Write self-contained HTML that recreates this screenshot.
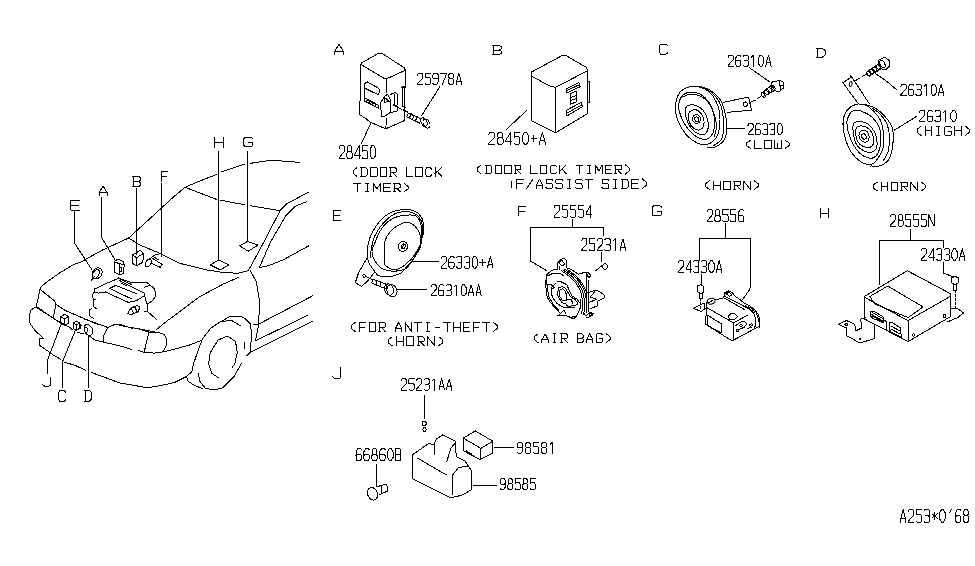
<!DOCTYPE html>
<html><head><meta charset="utf-8"><style>
html,body{margin:0;padding:0;background:#fff;width:975px;height:566px;overflow:hidden}
svg{display:block}
</style></head><body>
<svg width="975" height="566" viewBox="0 0 975 566">
<rect width="975" height="566" fill="#fff"/>
<g fill="none" stroke="#000" stroke-width="1" stroke-linejoin="round" stroke-linecap="square" shape-rendering="crispEdges">
<polyline points="74.50,211.00 74.50,243.00 91.90,269.60"/>
<polyline points="101.30,197.00 101.30,237.00 115.50,260.50"/>
<polyline points="136.30,188.00 136.30,254.00"/>
<polyline points="161.50,183.00 161.50,256.00"/>
<polyline points="218.60,151.00 218.60,260.00"/>
<polyline points="247.50,151.00 247.50,241.50"/>
<polyline points="47.50,373.50 47.50,360.00 61.50,323.50"/>
<polyline points="62.30,387.60 62.30,362.30 75.50,330.00"/>
<polyline points="88.30,387.60 88.30,335.50"/>
<polyline points="185.00,187.30 196.60,182.30 216.50,174.50"/>
<polyline points="221.00,172.00 244.80,164.00"/>
<polyline points="250.50,163.30 271.30,160.20 299.60,162.40"/>
<polyline points="185.00,187.30 216.50,199.40"/>
<polyline points="221.00,200.30 244.80,204.80"/>
<polyline points="250.00,205.60 279.70,210.60"/>
<polyline points="185.00,187.30 175.00,195.60 128.75,238.00 102.50,250.00 86.70,258.70 81.30,262.00 73.30,264.70 60.00,272.70 46.70,282.00 41.30,286.70 40.00,289.30"/>
<polyline points="128.75,238.00 139.80,245.00 159.80,253.30 179.70,263.30 206.30,269.90 222.90,272.40 238.10,273.30 248.10,270.80 253.10,262.00 264.00,241.70 280.30,210.40 287.10,203.60 308.80,192.00"/>
<polyline points="306.80,201.60 295.20,206.30 285.70,215.90 270.70,241.70 259.40,267.50 268.00,265.80 283.00,260.00 308.80,245.80"/>
<polyline points="249.80,270.00 256.40,281.60 259.50,301.50 258.70,324.10 312.90,295.70"/>
<polyline points="156.50,329.50 168.30,320.00 180.00,311.50 200.00,296.50 223.20,284.10 239.00,277.10"/>
<polyline points="253.10,324.90 258.70,324.10 255.50,340.80 307.10,315.60"/>
<polyline points="246.00,355.90 250.00,352.70 312.00,321.50"/>
<polyline points="202.30,339.20 210.20,328.80 216.60,324.10 222.10,320.90 229.30,316.90 241.20,316.40 246.00,319.30 250.70,324.10 251.50,336.80 250.00,352.70 246.80,355.90"/>
<polyline points="202.30,339.20 199.00,348.00 193.50,363.80 191.90,371.80 186.40,376.50 188.00,381.30 194.30,385.30 202.30,388.50"/>
<polyline points="241.20,363.80 234.00,376.50 222.90,387.70 215.00,390.00 205.40,388.50 199.90,381.30 198.30,373.40"/>
<polyline points="223.00,321.70 230.90,320.10 240.40,325.70"/>
<polyline points="219.00,378.10 211.80,373.40 208.60,363.80 210.20,352.70 218.20,340.00 227.70,336.00 235.60,341.60 237.20,352.70 234.80,363.80 232.50,367.00"/>
<polyline points="244.40,342.40 244.40,348.70"/>
<polyline points="138.10,350.30 144.20,352.30 154.10,353.10 163.10,351.90 175.00,349.00 189.90,344.90 202.30,340.00"/>
<polyline points="139.30,329.40 150.00,332.20 157.30,332.20 163.90,334.30 166.40,338.80 166.40,345.40 163.10,351.90"/>
<polyline points="148.70,333.00 144.20,351.90"/>
<polyline points="40.00,289.30 54.30,300.70"/>
<polyline points="40.00,289.30 36.70,304.70 36.00,307.30 53.30,318.00 60.00,322.70"/>
<polyline points="56.00,303.30 53.30,318.00"/>
<polyline points="36.60,306.60 30.80,310.00 29.10,316.60 30.00,323.30 35.00,330.70 40.80,335.70 43.30,339.00 40.00,338.20 39.10,344.90 44.90,349.00 53.30,355.00 60.50,359.20"/>
<polyline points="91.20,372.50 98.00,374.90 110.00,379.30 119.70,383.00 144.60,387.20 150.00,387.30 161.20,385.50 174.90,382.30 186.40,376.50"/>
<polyline points="36.60,306.60 53.20,318.30 69.80,327.40 72.00,329.40"/>
<polyline points="78.00,332.40 84.00,334.00"/>
<polyline points="90.00,336.50 95.00,340.00 103.20,342.10 119.60,345.80 131.90,349.50"/>
<polyline points="54.30,300.70 56.60,304.70 65.20,310.40 95.00,323.20 108.10,327.30 113.90,324.40 119.60,324.40 132.70,328.50"/>
<polyline points="108.10,327.30 103.20,336.30 103.20,342.10"/>
<polyline points="64.50,362.30 74.70,365.20 85.90,370.50"/>
<polyline points="94.70,289.00 105.50,283.80 118.80,278.20 132.20,282.80 140.40,282.10 146.50,282.10 154.70,289.00 155.80,295.60 152.70,300.80 147.60,303.80"/>
<polyline points="94.70,289.00 94.20,292.00 98.30,293.10 105.50,292.00 128.10,302.30 136.30,300.80 144.50,295.60 144.00,293.10 129.00,285.50"/>
<polyline points="109.60,288.50 115.80,285.40 136.30,293.60"/>
<polyline points="109.60,288.50 131.20,298.70"/>
<polyline points="94.20,292.00 92.70,294.60 93.20,299.70 95.20,299.70"/>
<polyline points="93.20,299.70 93.70,306.90 96.30,308.50"/>
<polyline points="92.20,308.00 89.60,310.00 89.10,315.60 93.20,318.20"/>
<polyline points="144.50,295.60 147.00,303.80 147.00,311.00 144.50,311.50"/>
<polyline points="147.00,311.00 156.80,319.70"/>
<polyline points="144.00,287.40 149.60,285.40"/>
<polygon points="127.50,313.50 131.00,308.00 137.50,305.40 139.90,307.50 138.00,312.00 131.00,314.60"/>
<polyline points="131.00,308.00 134.00,313.50"/>
<polyline points="134.50,306.50 137.00,311.50"/>
<polyline points="118.50,278.00 124.00,281.00"/>
<polyline points="119.50,280.50 128.00,285.00"/>
<polyline points="121.00,283.00 126.00,285.50"/>
<polyline points="124.00,281.00 131.50,284.50"/>
<polyline points="85.00,319.20 107.60,327.40 115.80,324.40 130.10,327.40 139.80,328.90 159.80,333.00"/>
<polygon points="115.00,260.90 118.10,259.20 122.90,261.30 124.20,264.40 123.70,273.10 119.80,274.80 114.60,272.20 114.20,261.80"/>
<polyline points="114.50,261.80 119.40,263.80 124.20,264.40"/>
<polyline points="119.40,263.80 119.40,274.50"/>
<polyline points="120.60,267.00 122.00,267.00 121.00,269.00 122.00,271.00 120.60,271.00"/>
<polygon points="132.50,254.80 140.30,250.40 143.40,253.50 136.40,257.80"/>
<polyline points="132.50,254.80 132.50,263.50 136.40,265.70 142.90,262.20 143.40,253.50"/>
<polyline points="136.40,257.80 136.40,265.70"/>
<ellipse cx="97.2" cy="273.3" rx="4.6" ry="5.7" transform="rotate(35 97.2 273.3)"/>
<ellipse cx="95.8" cy="274" rx="3" ry="4.8" transform="rotate(35 95.8 274)"/>
<polyline points="91.50,280.10 94.50,276.20"/>
<polyline points="152.50,258.30 162.10,264.40 160.40,267.40 150.80,263.10"/>
<ellipse cx="148.3" cy="263" rx="2.6" ry="4.2" transform="rotate(30 148.3 263)"/>
<polyline points="149.00,259.50 152.90,256.50 156.00,254.40 158.60,254.40"/>
<polyline points="152.90,256.50 159.00,260.00"/>
<polygon points="210.40,264.90 218.70,260.00 228.70,264.90 220.40,269.90"/>
<polygon points="239.50,245.80 247.60,241.40 257.80,245.10 248.30,251.20"/>
<polygon points="60.60,316.70 64.60,314.40 68.60,316.70 68.60,323.00 64.60,325.40 60.60,323.00"/>
<polyline points="60.60,316.70 64.60,319.00 68.60,316.70"/>
<polyline points="64.60,319.00 64.60,325.40"/>
<polygon points="73.20,323.00 76.50,321.30 79.50,323.00 79.50,328.50 76.50,330.00 73.20,328.50"/>
<polyline points="73.20,323.00 76.50,325.00 79.50,323.00"/>
<polyline points="76.50,325.00 76.50,330.00"/>
<polyline points="79.50,324.50 81.30,325.50 80.50,328.00"/>
<ellipse cx="88.4" cy="330" rx="4" ry="5.8" transform="rotate(-25 88.4 330)"/>
<polyline points="85.00,327.00 88.00,328.50 86.50,334.00"/>
<polygon points="361.80,62.80 379.00,53.00 382.80,53.80 404.50,68.00 405.30,70.30 387.30,78.50 384.30,78.50 361.80,65.00"/>
<polyline points="360.50,65.00 360.00,102.50 359.30,103.00 359.30,114.50 366.70,119.20 370.00,122.10 385.80,128.80 404.50,120.60 405.30,70.30"/>
<polyline points="386.50,78.50 386.50,92.80"/>
<polyline points="386.50,118.40 385.80,128.80"/>
<polygon points="364.30,83.80 367.40,81.90 378.30,88.10 379.90,90.40 378.30,94.70 365.10,88.10 364.30,86.00"/>
<polyline points="365.90,88.90 377.50,94.30"/>
<polyline points="364.70,88.00 364.70,101.30"/>
<polygon points="364.30,99.00 366.50,98.60 378.30,105.20 378.30,108.30 365.10,101.30"/>
<ellipse cx="368" cy="101.5" rx="1.2" ry="1.6" transform="rotate(-30 368 101.5)"/>
<ellipse cx="371" cy="103" rx="1.2" ry="1.6" transform="rotate(-30 371 103)"/>
<ellipse cx="374" cy="104.6" rx="1.2" ry="1.6" transform="rotate(-30 374 104.6)"/>
<polygon points="380.60,102.90 384.50,96.60 387.60,94.30 390.70,100.50 390.70,112.20 387.60,114.50 384.50,116.10 381.40,116.90"/>
<polygon points="384.50,97.50 389.50,101.50 384.50,102.20"/>
<polyline points="390.70,94.30 395.40,92.40 397.30,94.30 397.30,104.40"/>
<polyline points="394.60,94.30 394.60,103.00"/>
<polyline points="393.90,104.40 398.00,107.00 397.00,111.40 391.50,112.20"/>
<polyline points="401.60,87.30 405.30,85.80"/>
<polygon points="402.20,88.00 404.50,87.50 404.50,106.50 402.20,106.00"/>
<polyline points="405.30,107.50 402.40,106.00"/>
<polyline points="393.10,105.20 401.60,109.10"/>
<polyline points="403.20,109.90 407.50,112.00"/>
<polygon points="408.30,113.00 421.00,119.00 419.50,123.00 406.80,116.80"/>
<polyline points="411.00,113.50 409.50,118.00"/>
<polyline points="414.00,115.00 412.50,119.50"/>
<polyline points="417.00,116.50 415.50,121.00"/>
<ellipse cx="426.5" cy="123.6" rx="3.2" ry="4.8" transform="rotate(-25 426.5 123.6)"/>
<ellipse cx="424" cy="122.2" rx="2.8" ry="4.5" transform="rotate(-25 424 122.2)"/>
<polyline points="421.80,115.30 439.80,86.80"/>
<polyline points="371.00,122.50 361.50,143.50"/>
<polygon points="531.00,72.30 562.00,55.60 566.00,55.60 586.60,67.50 587.40,70.70 555.60,87.40 549.30,85.80 531.80,76.20"/>
<polyline points="531.00,73.00 531.00,120.70 546.10,127.90 555.60,132.70 587.40,113.60 587.40,70.70"/>
<polyline points="555.60,87.40 555.60,132.70"/>
<polyline points="587.40,81.00 589.80,81.80 589.80,102.50 587.40,102.50"/>
<polygon points="566.00,89.00 578.70,82.60 580.30,86.60 566.80,92.90"/>
<polyline points="566.00,91.00 579.50,84.60"/>
<polygon points="570.00,94.00 576.00,91.00 576.00,102.00 570.00,104.50"/>
<polyline points="570.00,98.00 576.00,95.50"/>
<polyline points="570.00,101.00 576.00,98.50"/>
<polygon points="566.00,110.40 581.10,102.50 582.70,106.40 566.80,116.00"/>
<polyline points="568.00,112.50 581.50,105.00"/>
<polyline points="506.40,129.50 527.00,110.10"/>
<path d="M675.60,104.80 C676.02,100.27 677.53,95.40 679.90,92.40 C682.27,89.40 686.30,87.63 689.80,86.80 C693.30,85.97 697.60,86.47 700.90,87.40 C704.20,88.33 707.12,90.13 709.60,92.40 C712.08,94.67 714.15,97.70 715.80,101.00 C717.45,104.30 718.88,107.87 719.50,112.20 C720.12,116.53 720.12,122.67 719.50,127.00 C718.88,131.33 717.87,135.30 715.80,138.20 C713.73,141.10 710.20,143.58 707.10,144.40 C704.00,145.22 700.70,144.75 697.20,143.10 C693.70,141.45 689.40,138.42 686.10,134.50 C682.80,130.58 679.15,124.55 677.40,119.60 C675.65,114.65 675.18,109.33 675.60,104.80 Z"/>
<path d="M699.70,86.20 C701.35,86.82 706.30,87.83 709.60,89.90 C712.90,91.97 717.02,95.10 719.50,98.60 C721.98,102.10 723.27,106.17 724.50,110.90 C725.73,115.63 726.90,122.25 726.90,127.00 C726.90,131.75 726.35,136.10 724.50,139.40 C722.65,142.70 718.70,145.37 715.80,146.80 C712.90,148.23 708.55,147.80 707.10,148.00"/>
<path d="M703.00,87.50 C704.50,88.42 709.33,90.67 712.00,93.00 C714.67,95.33 717.25,98.33 719.00,101.50 C720.75,104.67 721.70,107.75 722.50,112.00 C723.30,116.25 723.97,122.50 723.80,127.00 C723.63,131.50 723.13,135.92 721.50,139.00 C719.87,142.08 715.25,144.42 714.00,145.50"/>
<path d="M679.90,99.80 C680.93,97.32 682.42,94.83 684.90,93.60 C687.38,92.37 691.50,91.78 694.80,92.40 C698.10,93.02 701.82,94.62 704.70,97.30 C707.58,99.98 710.45,104.17 712.10,108.50 C713.75,112.83 714.60,118.97 714.60,123.30 C714.60,127.63 713.75,131.82 712.10,134.50 C710.45,137.18 707.80,139.40 704.70,139.40 C701.60,139.40 697.02,137.38 693.50,134.50 C689.98,131.62 686.07,126.43 683.60,122.10 C681.13,117.77 679.32,112.22 678.70,108.50 C678.08,104.78 678.87,102.28 679.90,99.80 Z"/>
<path d="M682.00,97.00 C683.33,96.58 687.00,94.67 690.00,94.50 C693.00,94.33 697.00,94.75 700.00,96.00 C703.00,97.25 705.75,99.33 708.00,102.00 C710.25,104.67 712.08,108.17 713.50,112.00 C714.92,115.83 716.33,121.00 716.50,125.00 C716.67,129.00 714.83,134.17 714.50,136.00"/>
<path d="M686.10,107.20 C687.13,105.15 690.03,104.80 692.30,104.80 C694.57,104.80 697.43,105.55 699.70,107.20 C701.97,108.85 704.45,111.60 705.90,114.70 C707.35,117.80 708.40,122.72 708.40,125.80 C708.40,128.88 707.35,131.75 705.90,133.20 C704.45,134.65 702.18,135.32 699.70,134.50 C697.22,133.68 693.27,131.20 691.00,128.30 C688.73,125.40 686.92,120.62 686.10,117.10 C685.28,113.58 685.07,109.25 686.10,107.20 Z"/>
<path d="M688.60,113.40 C689.43,111.13 692.75,109.70 694.80,109.70 C696.85,109.70 699.37,111.55 700.90,113.40 C702.43,115.25 703.78,118.32 704.00,120.80 C704.22,123.28 703.53,126.85 702.20,128.30 C700.87,129.75 698.07,130.33 696.00,129.50 C693.93,128.67 691.03,125.98 689.80,123.30 C688.57,120.62 687.77,115.67 688.60,113.40 Z"/>
<ellipse cx="696.6" cy="119" rx="4" ry="4.3" transform="rotate(-20 696.6 119)"/>
<ellipse cx="696.8" cy="119.2" rx="2" ry="2.4" transform="rotate(-20 696.8 119.2)"/>
<polyline points="723.60,102.30 747.30,97.30 748.70,98.00 751.60,110.20 727.20,112.30"/>
<ellipse cx="745.3" cy="104.2" rx="2" ry="2.2" transform="rotate(-20 745.3 104.2)"/>
<polyline points="749.40,102.60 755.20,100.10"/>
<polyline points="757.30,98.70 761.60,95.80"/>
<polyline points="761.60,93.00 771.70,85.00"/>
<polyline points="763.10,96.50 776.00,90.10"/>
<ellipse cx="763.2" cy="95" rx="1.6" ry="2.6" transform="rotate(-35 763.2 95)"/>
<ellipse cx="766.5" cy="92.5" rx="1.6" ry="2.6" transform="rotate(-35 766.5 92.5)"/>
<ellipse cx="769.8" cy="90" rx="1.6" ry="2.6" transform="rotate(-35 769.8 90)"/>
<ellipse cx="773" cy="87.8" rx="1.6" ry="2.6" transform="rotate(-35 773 87.8)"/>
<polygon points="771.70,82.20 779.60,80.40 783.20,82.20 783.50,87.90 779.60,91.50 776.00,91.20 771.70,86.00"/>
<polyline points="779.00,81.00 781.00,91.00"/>
<polyline points="783.30,85.00 780.50,85.50"/>
<polyline points="727.20,128.50 744.90,128.50"/>
<polyline points="749.50,67.70 769.50,81.80"/>
<path d="M843.10,121.00 C843.50,116.47 845.23,112.68 847.40,109.90 C849.57,107.12 853.20,105.12 856.10,104.30 C859.00,103.48 862.33,104.27 864.80,105.00 C867.27,105.73 868.43,106.43 870.90,108.70 C873.37,110.97 877.53,114.68 879.60,118.60 C881.67,122.52 882.68,127.47 883.30,132.20 C883.92,136.93 884.33,142.47 883.30,147.00 C882.27,151.53 879.17,156.50 877.10,159.40 C875.03,162.30 873.58,163.98 870.90,164.40 C868.22,164.82 864.30,163.97 861.00,161.90 C857.70,159.83 853.77,156.13 851.10,152.00 C848.43,147.87 846.33,142.27 845.00,137.10 C843.67,131.93 842.70,125.53 843.10,121.00 Z"/>
<path d="M864.80,104.50 C866.50,105.08 871.70,106.07 875.00,108.00 C878.30,109.93 881.77,112.90 884.60,116.10 C887.43,119.30 890.57,123.08 892.00,127.20 C893.43,131.32 893.62,135.63 893.20,140.80 C892.78,145.97 891.57,154.07 889.50,158.20 C887.43,162.33 883.90,164.30 880.80,165.60 C877.70,166.90 872.55,165.93 870.90,166.00"/>
<path d="M872.00,108.00 C873.33,109.00 877.50,111.33 880.00,114.00 C882.50,116.67 885.42,120.17 887.00,124.00 C888.58,127.83 889.33,132.33 889.50,137.00 C889.67,141.67 889.08,148.00 888.00,152.00 C886.92,156.00 883.83,159.50 883.00,161.00"/>
<path d="M849.30,114.90 C850.23,113.03 850.45,111.73 852.40,111.10 C854.35,110.47 857.70,110.07 861.00,111.10 C864.30,112.13 869.10,114.40 872.20,117.30 C875.30,120.20 878.17,124.37 879.60,128.50 C881.03,132.63 881.22,137.77 880.80,142.10 C880.38,146.43 878.95,151.82 877.10,154.50 C875.25,157.18 872.78,158.62 869.70,158.20 C866.62,157.78 861.90,155.52 858.60,152.00 C855.30,148.48 851.87,142.05 849.90,137.10 C847.93,132.15 846.90,126.00 846.80,122.30 C846.70,118.60 848.37,116.77 849.30,114.90 Z"/>
<path d="M853.60,123.50 C854.63,121.33 857.53,121.70 859.80,121.70 C862.07,121.70 864.72,121.75 867.20,123.50 C869.68,125.25 873.05,128.90 874.70,132.20 C876.35,135.50 877.10,140.22 877.10,143.30 C877.10,146.38 876.35,149.25 874.70,150.70 C873.05,152.15 870.10,152.82 867.20,152.00 C864.30,151.18 859.57,148.68 857.30,145.80 C855.03,142.92 854.22,138.42 853.60,134.70 C852.98,130.98 852.57,125.67 853.60,123.50 Z"/>
<path d="M856.10,128.50 C856.93,126.03 860.03,125.80 862.30,126.00 C864.57,126.20 867.85,127.85 869.70,129.70 C871.55,131.55 872.98,134.42 873.40,137.10 C873.82,139.78 873.63,144.15 872.20,145.80 C870.77,147.45 867.28,147.83 864.80,147.00 C862.32,146.17 858.75,143.88 857.30,140.80 C855.85,137.72 855.27,130.97 856.10,128.50 Z"/>
<path d="M859.20,133.00 C859.70,131.55 861.62,130.47 863.00,130.30 C864.38,130.13 866.48,130.88 867.50,132.00 C868.52,133.12 869.02,135.50 869.10,137.00 C869.18,138.50 868.85,140.15 868.00,141.00 C867.15,141.85 865.33,142.43 864.00,142.10 C862.67,141.77 860.80,140.52 860.00,139.00 C859.20,137.48 858.70,134.45 859.20,133.00 Z"/>
<ellipse cx="864" cy="136.5" rx="2.2" ry="2.8" transform="rotate(-25 864 136.5)"/>
<polyline points="850.70,75.40 850.20,77.90 842.90,82.70 857.50,102.70"/>
<polyline points="850.70,75.40 869.20,103.60"/>
<ellipse cx="850.7" cy="84" rx="1.3" ry="2.6" transform="rotate(10 850.7 84)"/>
<polyline points="855.10,80.80 859.50,78.30"/>
<polyline points="862.40,76.40 867.20,74.00"/>
<polyline points="867.20,71.50 878.90,63.80"/>
<polyline points="869.20,75.90 881.80,68.60"/>
<ellipse cx="868.6" cy="73.8" rx="1.6" ry="2.5" transform="rotate(-35 868.6 73.8)"/>
<ellipse cx="871.8" cy="71.5" rx="1.6" ry="2.5" transform="rotate(-35 871.8 71.5)"/>
<ellipse cx="875" cy="69.3" rx="1.6" ry="2.5" transform="rotate(-35 875 69.3)"/>
<ellipse cx="878.2" cy="67" rx="1.6" ry="2.5" transform="rotate(-35 878.2 67)"/>
<polygon points="878.90,59.90 884.70,57.00 889.60,60.80 889.60,65.70 885.70,69.60 881.80,69.10 878.90,64.00"/>
<ellipse cx="882.5" cy="64" rx="2.2" ry="4" transform="rotate(-25 882.5 64)"/>
<polyline points="874.00,72.50 886.70,81.30 896.40,89.50"/>
<polyline points="894.30,130.20 916.60,116.40"/>
<path d="M372.60,268.60 C372.00,267.67 369.88,264.98 369.00,263.00 C368.12,261.02 367.55,258.87 367.30,256.70 C367.05,254.53 367.28,252.43 367.50,250.00 C367.72,247.57 368.02,244.60 368.60,242.10 C369.18,239.60 369.90,237.43 371.00,235.00 C372.10,232.57 373.70,229.83 375.20,227.50 C376.70,225.17 378.23,222.98 380.00,221.00 C381.77,219.02 383.97,217.02 385.80,215.60 C387.63,214.18 389.00,213.38 391.00,212.50 C393.00,211.62 394.90,210.78 397.80,210.30 C400.70,209.82 405.87,209.57 408.40,209.60 C410.93,209.63 411.47,209.95 413.00,210.50 C414.53,211.05 416.35,211.98 417.60,212.90 C418.85,213.82 419.62,214.67 420.50,216.00 C421.38,217.33 422.38,218.32 422.90,220.90 C423.42,223.48 423.82,228.42 423.60,231.50 C423.38,234.58 422.15,236.75 421.60,239.40 C421.05,242.05 421.15,244.97 420.30,247.40 C419.45,249.83 417.83,251.80 416.50,254.00 C415.17,256.20 413.88,258.52 412.30,260.60 C410.72,262.68 408.77,264.52 407.00,266.50 C405.23,268.48 403.70,271.00 401.70,272.50 C399.70,274.00 397.20,274.83 395.00,275.50 C392.80,276.17 390.50,276.33 388.50,276.50 C386.50,276.67 384.77,276.72 383.00,276.50 C381.23,276.28 379.63,276.52 377.90,275.20 C376.17,273.88 373.48,269.70 372.60,268.60"/>
<path d="M370.00,258.00 C370.25,256.33 370.85,251.32 371.50,248.00 C372.15,244.68 372.90,240.93 373.90,238.10 C374.90,235.27 376.17,233.20 377.50,231.00 C378.83,228.80 380.15,226.98 381.90,224.90 C383.65,222.82 385.80,220.38 388.00,218.50 C390.20,216.62 392.93,214.68 395.10,213.60 C397.27,212.52 398.78,212.33 401.00,212.00 C403.22,211.67 406.23,211.35 408.40,211.60 C410.57,211.85 412.23,212.62 414.00,213.50 C415.77,214.38 417.62,215.00 419.00,216.90 C420.38,218.80 421.65,221.58 422.30,224.90 C422.95,228.22 422.80,234.82 422.90,236.80"/>
<path d="M376.60,263.30 C376.08,262.42 374.27,259.88 373.50,258.00 C372.73,256.12 372.08,253.83 372.00,252.00 C371.92,250.17 372.47,248.65 373.00,247.00 C373.53,245.35 374.12,244.60 375.20,242.10 C376.28,239.60 377.73,235.10 379.50,232.00 C381.27,228.90 383.55,225.75 385.80,223.50 C388.05,221.25 390.35,219.82 393.00,218.50 C395.65,217.18 398.03,216.08 401.70,215.60 C405.37,215.12 411.90,214.50 415.00,215.60 C418.10,216.70 419.22,219.47 420.30,222.20 C421.38,224.93 421.50,228.25 421.50,232.00 C421.50,235.75 421.13,241.20 420.30,244.70 C419.47,248.20 417.83,250.35 416.50,253.00 C415.17,255.65 414.10,258.00 412.30,260.60 C410.50,263.20 408.57,266.83 405.70,268.60 C402.83,270.37 398.05,270.88 395.10,271.20 C392.15,271.52 390.20,270.93 388.00,270.50 C385.80,270.07 383.80,269.80 381.90,268.60 C380.00,267.40 377.48,264.18 376.60,263.30"/>
<path d="M384.50,244.70 C384.75,240.57 385.33,240.27 386.00,238.50 C386.67,236.73 387.33,235.68 388.50,234.10 C389.67,232.52 391.23,230.53 393.00,229.00 C394.77,227.47 396.77,226.03 399.10,224.90 C401.43,223.77 404.35,221.98 407.00,222.20 C409.65,222.42 412.78,223.98 415.00,226.20 C417.22,228.42 419.42,232.42 420.30,235.50 C421.18,238.58 420.93,242.03 420.30,244.70 C419.67,247.37 417.83,249.28 416.50,251.50 C415.17,253.72 413.88,256.08 412.30,258.00 C410.72,259.92 408.77,261.45 407.00,263.00 C405.23,264.55 403.90,266.15 401.70,267.30 C399.50,268.45 396.00,269.87 393.80,269.90 C391.60,269.93 390.05,268.60 388.50,267.50 C386.95,266.40 385.17,267.10 384.50,263.30 C383.83,259.50 384.25,248.83 384.50,244.70 Z"/>
<ellipse cx="403" cy="246.4" rx="4.6" ry="5" transform="rotate(20 403 246.4)"/>
<ellipse cx="403.3" cy="246.4" rx="2" ry="2.6" transform="rotate(20 403.3 246.4)"/>
<polyline points="403.50,244.50 402.00,248.50"/>
<polyline points="367.70,257.10 358.80,272.10 355.30,282.70 361.50,286.30 367.70,281.00 374.70,272.10"/>
<ellipse cx="364.1" cy="275.7" rx="1.2" ry="1.6" transform="rotate(0 364.1 275.7)"/>
<path d="M365.9,276.6 L373,280"/>
<polygon points="373.00,279.20 387.10,284.50 386.00,289.00 371.80,283.00"/>
<polyline points="377.00,280.50 375.80,285.00"/>
<polyline points="381.00,282.00 379.80,286.50"/>
<ellipse cx="392" cy="290.7" rx="5" ry="6.2" transform="rotate(-20 392 290.7)"/>
<ellipse cx="389" cy="289.5" rx="4.2" ry="5.8" transform="rotate(-20 389 289.5)"/>
<polyline points="411.00,261.90 438.30,261.90"/>
<polyline points="396.80,289.80 426.00,289.80"/>
<polyline points="557.70,269.80 557.70,262.80 561.20,259.20 564.40,258.20 566.90,260.70 566.90,264.20 566.10,267.70"/>
<polygon points="559.00,262.50 562.00,260.50 565.00,264.00 562.00,266.00"/>
<polyline points="559.50,266.50 559.50,269.50"/>
<polyline points="557.70,269.10 552.00,270.20 546.40,274.80 545.70,284.70 546.50,292.20 547.20,297.20 550.80,303.00 559.40,312.30"/>
<polyline points="547.00,276.20 552.70,273.40 559.10,273.00 563.30,275.50"/>
<polyline points="546.50,280.00 547.50,290.00 549.00,297.00 553.00,304.00 558.50,310.00"/>
<polyline points="566.10,267.70 571.80,269.80 578.20,274.10 583.80,272.70 587.40,272.00 590.90,275.50 589.50,277.60 587.00,276.50"/>
<ellipse cx="588.8" cy="275.2" rx="1.5" ry="1.6" transform="rotate(0 588.8 275.2)"/>
<polyline points="558.00,315.90 563.70,310.10 565.80,313.70"/>
<polyline points="558.00,315.90 563.70,315.20 568.70,316.60 573.00,318.70 575.20,318.00 578.80,311.60 580.20,308.00 580.20,299.40"/>
<ellipse cx="573.5" cy="317.8" rx="1.5" ry="1.2" transform="rotate(0 573.5 317.8)"/>
<polyline points="561.20,270.50 569.00,276.00 576.00,283.00 580.50,291.00 582.50,300.00 582.50,310.00 581.00,314.00"/>
<polyline points="563.00,270.00 571.00,275.50 578.00,283.00 582.50,291.00 584.50,300.00 584.50,310.00 583.00,315.00"/>
<polyline points="565.00,269.50 573.00,275.00 580.00,282.50 584.50,291.00 586.50,300.00 586.50,311.00"/>
<polyline points="567.50,269.50 576.00,276.00 582.00,283.00 586.00,291.00"/>
<polyline points="586.60,272.70 586.60,312.00"/>
<polyline points="588.30,280.00 588.30,311.00"/>
<polyline points="557.00,281.90 561.20,281.90 566.90,284.70 569.70,291.70 572.00,296.00 577.00,299.00 580.00,303.00"/>
<polyline points="556.00,283.00 552.00,287.00 551.00,293.00 553.00,298.00 557.00,303.50 563.00,307.00 570.00,308.00 575.00,307.00"/>
<polygon points="558.70,287.90 562.30,286.40 565.80,288.60 568.70,293.60 570.90,297.20 575.20,299.40 578.00,303.70 574.50,305.80 567.30,306.20 566.60,304.40 561.50,302.20 557.20,294.30"/>
<polygon points="560.00,290.00 562.50,288.50 565.00,291.00 567.00,296.00 566.00,301.00 562.00,300.00 559.00,295.00"/>
<polyline points="567.30,300.00 571.00,299.00 573.00,304.00"/>
<polyline points="545.70,284.70 550.60,284.00 554.10,287.50 551.00,290.00"/>
<polyline points="587.40,292.90 596.00,290.00 603.90,294.30 604.60,297.90 597.40,301.50 597.40,305.80 590.30,308.70"/>
<polyline points="590.30,297.20 596.70,299.40 589.50,302.20"/>
<polyline points="596.00,290.00 590.30,297.20"/>
<polyline points="597.40,301.50 604.60,297.90"/>
<polyline points="583.10,312.30 586.00,315.90 590.30,312.30 593.10,313.70 591.70,315.90 586.00,318.00"/>
<ellipse cx="590.5" cy="314.5" rx="1.2" ry="1.2" transform="rotate(0 590.5 314.5)"/>
<polyline points="530.20,227.30 603.60,227.30"/>
<polyline points="572.10,219.70 572.10,227.30"/>
<polyline points="530.20,227.30 530.20,260.80 546.10,270.30"/>
<polyline points="603.60,227.30 603.60,235.50"/>
<polyline points="601.40,252.50 601.40,261.00"/>
<path d="M595,271.2 L601.6,265.9"/>
<ellipse cx="605" cy="266.5" rx="2.5" ry="2.7" transform="rotate(0 605 266.5)"/>
<ellipse cx="711.1" cy="301.2" rx="4" ry="2.8" transform="rotate(-15 711.1 301.2)"/>
<polyline points="709.00,302.50 713.00,300.00"/>
<polyline points="707.20,300.90 706.30,308.00 705.70,324.30 732.10,340.90 759.70,326.00 760.00,318.00"/>
<polyline points="715.10,300.10 723.80,297.70 724.60,293.00 728.60,291.00 732.60,293.00 735.00,296.10 741.30,300.50 744.50,303.30"/>
<polygon points="726.00,293.50 729.00,292.50 732.00,294.50 729.50,296.50"/>
<polyline points="707.60,308.10 733.40,322.80 747.70,315.20"/>
<polyline points="733.40,322.80 733.40,340.50"/>
<polyline points="723.80,297.70 744.50,309.60"/>
<polyline points="724.60,296.10 746.10,307.30"/>
<polygon points="707.60,315.20 721.50,324.00 721.50,333.00 707.60,325.50"/>
<polygon points="728.20,316.40 731.00,313.20 734.50,313.50 737.40,316.50 734.50,319.60 729.50,319.30"/>
<polyline points="744.50,303.30 750.00,306.00 755.00,310.00 758.50,315.00 760.00,320.00 759.60,327.90"/>
<polyline points="746.10,307.30 750.00,309.50 753.50,313.00 755.50,318.00 756.00,324.00 754.00,329.00"/>
<polyline points="745.00,305.00 747.50,308.00"/>
<polyline points="748.00,306.00 750.50,309.50"/>
<polyline points="751.00,307.50 753.00,311.00"/>
<polyline points="753.50,309.50 755.00,313.00"/>
<polyline points="756.00,312.00 757.30,316.00"/>
<polyline points="757.50,315.50 758.50,319.50"/>
<polyline points="758.50,319.50 759.50,323.50"/>
<polyline points="735.00,326.00 740.00,322.50 744.00,321.00 747.00,324.00 744.00,327.50 737.00,330.00"/>
<ellipse cx="741" cy="325.5" rx="1.3" ry="1.3" transform="rotate(0 741 325.5)"/>
<ellipse cx="737.5" cy="330.5" rx="1.3" ry="1.5" transform="rotate(0 737.5 330.5)"/>
<polyline points="748.00,328.50 752.00,327.00"/>
<ellipse cx="751" cy="325" rx="1.5" ry="1" transform="rotate(-20 751 325)"/>
<polygon points="693.60,308.20 704.00,303.00 705.10,308.70 701.10,311.60"/>
<polygon points="697.60,286.00 701.00,284.60 704.00,287.00 703.50,292.00 701.00,293.50 698.00,292.00"/>
<polyline points="699.00,293.50 699.00,298.40 702.50,298.40 702.50,293.50"/>
<polyline points="700.50,298.40 700.50,308.00" stroke-dasharray="2,2"/>
<polyline points="750.50,238.80 750.50,285.70 749.40,290.00 741.30,301.30"/>
<polyline points="699.20,238.80 750.50,238.80"/>
<polyline points="725.80,223.80 725.80,238.80"/>
<polyline points="699.20,238.80 699.20,260.20"/>
<polyline points="701.20,274.50 701.20,283.50"/>
<polygon points="864.50,296.50 907.30,270.70 950.10,293.50 950.10,296.50 908.10,320.60 864.50,297.30"/>
<polygon points="869.80,296.50 887.80,286.00 923.10,307.00 908.10,317.60 875.00,304.00"/>
<polyline points="864.50,297.30 864.50,319.00 908.10,341.60 950.10,316.80 950.10,296.50"/>
<polyline points="908.10,320.60 908.10,341.60"/>
<polygon points="870.30,311.90 873.50,311.10 883.00,316.70 883.80,323.00 872.70,318.30 870.30,315.90"/>
<polyline points="871.50,314.50 882.00,320.50"/>
<polyline points="872.50,312.50 882.50,318.50"/>
<polyline points="873.00,316.50 882.00,321.50" stroke-dasharray="1,1"/>
<polygon points="889.40,323.00 891.80,322.30 900.50,327.80 901.30,337.40 890.20,331.80 889.40,326.00"/>
<polyline points="891.00,326.00 900.00,331.00" stroke-dasharray="1,1"/>
<polyline points="891.00,329.00 900.00,334.00" stroke-dasharray="1,1"/>
<polyline points="883.80,320.00 886.20,321.50 886.20,329.40"/>
<polyline points="838.30,324.30 846.50,320.60 854.80,324.30 855.50,331.00 861.50,328.00 860.80,319.00 866.00,317.60"/>
<polyline points="875.00,325.00 874.30,338.60 860.00,343.00 846.50,335.60 846.50,328.00 838.30,324.30"/>
<ellipse cx="846.5" cy="324.5" rx="1.5" ry="1" transform="rotate(0 846.5 324.5)"/>
<ellipse cx="860" cy="339" rx="1" ry="1" transform="rotate(0 860 339)"/>
<ellipse cx="913.5" cy="335" rx="1.2" ry="1.2" transform="rotate(0 913.5 335)"/>
<ellipse cx="944.3" cy="316" rx="1.2" ry="2" transform="rotate(0 944.3 316)"/>
<polyline points="950.10,308.50 957.60,308.50 963.60,313.00 957.60,317.60 947.10,322.00"/>
<polygon points="951.60,278.00 955.00,276.30 958.40,278.00 958.00,283.00 955.00,284.50 952.00,283.00"/>
<polyline points="953.50,284.50 953.50,290.50 956.50,290.50 956.50,284.50"/>
<polyline points="955.00,290.50 955.00,310.00" stroke-dasharray="2,2"/>
<polyline points="879.00,240.30 943.50,240.30"/>
<polyline points="910.70,229.20 910.70,240.30"/>
<polyline points="879.00,240.30 879.00,284.50"/>
<polyline points="943.50,240.30 943.50,247.50"/>
<polyline points="943.50,262.00 943.50,273.00 953.60,277.00"/>
<polygon points="412.50,454.80 428.40,443.60 434.00,444.40 436.40,438.90 442.70,434.90 455.40,441.20 456.20,456.40 465.00,461.10 471.40,470.70 471.40,489.80 461.80,495.30 450.70,497.70 412.50,478.60"/>
<polyline points="417.30,458.00 445.90,474.70"/>
<polyline points="452.30,475.50 458.60,467.50 468.20,465.90"/>
<polyline points="452.30,475.50 452.30,494.50"/>
<polyline points="434.00,444.40 434.00,454.00"/>
<polyline points="455.40,442.80 450.70,448.40 446.70,461.90"/>
<polygon points="475.30,430.90 463.40,438.10 480.90,448.40 492.80,441.20"/>
<polyline points="463.40,438.10 463.40,450.80 480.10,459.50 492.80,453.20 492.80,441.20"/>
<polyline points="480.90,448.40 480.10,459.50"/>
<polyline points="466.50,451.00 472.00,454.00"/>
<polyline points="494.70,447.10 513.90,447.10"/>
<polyline points="473.50,485.00 496.10,485.00"/>
<polyline points="424.00,395.40 424.00,418.00"/>
<ellipse cx="424.2" cy="423.5" rx="2" ry="2.3" transform="rotate(0 424.2 423.5)"/>
<ellipse cx="424.5" cy="429.5" rx="1.6" ry="2" transform="rotate(0 424.5 429.5)"/>
<polyline points="376.50,464.30 376.50,485.00"/>
<ellipse cx="372.5" cy="493.8" rx="4.8" ry="6.5" transform="rotate(-20 372.5 493.8)"/>
<polyline points="376.00,487.00 386.00,484.20 388.00,488.00 387.80,491.00 379.00,495.00"/>
<polyline points="381.00,486.00 382.00,493.00"/>
<polyline points="334.50,54.50 334.50,51.50 339.00,44.50 343.50,51.50 343.50,54.50"/>
<polyline points="334.50,51.50 343.50,51.50"/>
<polyline points="492.50,45.50 499.57,45.50 501.50,46.80 501.50,48.70 499.57,50.00 493.79,50.00"/>
<polyline points="499.57,50.00 501.50,51.30 501.50,53.20 499.57,54.50 492.50,54.50"/>
<polyline points="493.79,45.50 493.79,54.50"/>
<polyline points="667.90,45.72 665.99,44.00 660.91,44.00 659.00,46.29 659.00,52.01 660.91,54.30 665.99,54.30 667.90,52.58"/>
<polyline points="816.70,48.50 822.63,48.50 825.00,50.39 825.00,55.11 822.63,57.00 816.70,57.00"/>
<polyline points="817.89,48.50 817.89,57.00"/>
<polyline points="340.40,210.90 333.20,210.90 333.20,220.90 340.40,220.90"/>
<polyline points="333.20,215.90 339.37,215.90"/>
<polyline points="525.00,206.50 518.70,206.50 518.70,215.90"/>
<polyline points="518.70,211.20 524.10,211.20"/>
<polyline points="661.50,207.01 660.19,205.90 653.61,205.90 652.30,207.01 652.30,214.79 653.61,215.90 660.19,215.90 661.50,214.79 661.50,211.46 657.56,211.46"/>
<polyline points="820.10,208.60 820.10,217.80"/>
<polyline points="828.10,208.60 828.10,217.80"/>
<polyline points="820.10,213.20 828.10,213.20"/>
<polyline points="340.70,367.60 340.70,377.22 339.35,378.70 334.62,378.70 332.60,376.85"/>
<polyline points="79.50,200.50 70.50,200.50 70.50,210.00 79.50,210.00"/>
<polyline points="70.50,205.25 78.21,205.25"/>
<polyline points="99.25,195.50 99.25,192.65 103.12,186.00 107.00,192.65 107.00,195.50"/>
<polyline points="99.25,192.65 107.00,192.65"/>
<polyline points="132.50,176.50 138.79,176.50 140.50,177.94 140.50,180.06 138.79,181.50 133.64,181.50"/>
<polyline points="138.79,181.50 140.50,182.94 140.50,185.06 138.79,186.50 132.50,186.50"/>
<polyline points="133.64,176.50 133.64,186.50"/>
<polyline points="167.00,171.50 161.00,171.50 161.00,181.50"/>
<polyline points="161.00,176.50 166.14,176.50"/>
<polyline points="214.00,137.50 214.00,147.50"/>
<polyline points="223.00,137.50 223.00,147.50"/>
<polyline points="214.00,142.50 223.00,142.50"/>
<polyline points="252.60,138.51 251.36,137.50 245.14,137.50 243.90,138.51 243.90,145.59 245.14,146.60 251.36,146.60 252.60,145.59 252.60,142.56 248.87,142.56"/>
<polyline points="50.40,377.40 50.40,384.94 49.10,386.10 44.55,386.10 42.60,384.65"/>
<polyline points="65.70,392.35 64.16,390.50 60.04,390.50 58.50,392.97 58.50,399.13 60.04,401.60 64.16,401.60 65.70,399.75"/>
<polyline points="84.40,390.50 89.61,390.50 91.70,392.86 91.70,398.74 89.61,401.10 84.40,401.10"/>
<polyline points="85.44,390.50 85.44,401.10"/>
<polyline points="417.50,75.08 418.38,73.20 421.92,73.20 422.81,74.14 422.81,77.91 417.50,83.56 417.50,84.50 422.81,84.50"/>
<polyline points="430.55,73.20 425.24,73.20 425.24,77.91 426.12,77.44 429.66,77.44 430.55,78.85 430.55,83.56 429.66,84.50 426.12,84.50 425.24,83.56"/>
<polyline points="432.98,83.56 433.86,84.50 436.52,84.50 438.28,81.67 438.28,75.08 437.40,73.20 433.86,73.20 432.98,75.08 432.98,77.91 433.86,78.85 437.40,78.85 438.28,77.91"/>
<polyline points="440.72,73.20 446.02,73.20 446.02,75.08 442.48,84.50"/>
<polyline points="449.78,73.20 452.43,73.20 453.32,74.61 453.32,77.44 452.43,78.38 449.78,78.38 448.90,77.44 448.90,74.61 449.78,73.20"/>
<polyline points="449.78,78.38 448.45,79.79 448.45,83.09 449.78,84.50 452.43,84.50 453.76,83.09 453.76,79.79 452.43,78.38"/>
<polyline points="456.19,84.50 456.64,81.20 458.85,73.20 461.06,81.20 461.50,84.50"/>
<polyline points="456.64,81.20 461.06,81.20"/>
<polyline points="339.20,147.97 340.09,145.80 343.63,145.80 344.51,146.88 344.51,151.22 339.20,157.72 339.20,158.80 344.51,158.80"/>
<polyline points="348.27,145.80 350.93,145.80 351.82,147.43 351.82,150.68 350.93,151.76 348.27,151.76 347.39,150.68 347.39,147.43 348.27,145.80"/>
<polyline points="348.27,151.76 346.95,153.38 346.95,157.18 348.27,158.80 350.93,158.80 352.26,157.18 352.26,153.38 350.93,151.76"/>
<polyline points="359.12,158.80 359.12,145.80 354.69,154.47 354.69,155.55 360.01,155.55"/>
<polyline points="367.75,145.80 362.44,145.80 362.44,151.22 363.33,150.68 366.87,150.68 367.75,152.30 367.75,157.72 366.87,158.80 363.33,158.80 362.44,157.72"/>
<polyline points="371.96,145.80 373.73,145.80 375.50,149.05 375.50,155.55 373.73,158.80 371.96,158.80 370.19,155.55 370.19,149.05 371.96,145.80"/>
<polyline points="488.90,134.45 489.86,132.50 493.72,132.50 494.68,133.47 494.68,137.38 488.90,143.22 488.90,144.20 494.68,144.20"/>
<polyline points="498.78,132.50 501.67,132.50 502.64,133.96 502.64,136.89 501.67,137.86 498.78,137.86 497.82,136.89 497.82,133.96 498.78,132.50"/>
<polyline points="498.78,137.86 497.34,139.32 497.34,142.74 498.78,144.20 501.67,144.20 503.12,142.74 503.12,139.32 501.67,137.86"/>
<polyline points="510.59,144.20 510.59,132.50 505.77,140.30 505.77,141.27 511.56,141.27"/>
<polyline points="519.99,132.50 514.21,132.50 514.21,137.38 515.17,136.89 519.03,136.89 519.99,138.35 519.99,143.22 519.03,144.20 515.17,144.20 514.21,143.22"/>
<polyline points="524.57,132.50 526.50,132.50 528.43,135.43 528.43,141.27 526.50,144.20 524.57,144.20 522.64,141.27 522.64,135.43 524.57,132.50"/>
<polyline points="531.08,138.35 536.86,138.35"/>
<polyline points="533.97,135.43 533.97,141.27"/>
<polyline points="539.52,144.20 540.00,140.79 542.41,132.50 544.82,140.79 545.30,144.20"/>
<polyline points="540.00,140.79 544.82,140.79"/>
<polyline points="728.20,57.10 729.06,55.30 732.50,55.30 733.36,56.20 733.36,59.80 728.20,65.20 728.20,66.10 733.36,66.10"/>
<polyline points="740.89,56.20 740.03,55.30 737.45,55.30 735.73,58.00 735.73,64.30 736.59,66.10 740.03,66.10 740.89,64.30 740.89,61.60 740.03,60.70 736.59,60.70 735.73,61.60"/>
<polyline points="743.26,56.20 744.12,55.30 747.56,55.30 748.42,56.20 748.42,59.80 747.56,60.70 744.98,60.70"/>
<polyline points="747.56,60.70 748.42,61.60 748.42,65.20 747.56,66.10 744.12,66.10 743.26,65.20"/>
<polyline points="751.64,57.10 753.36,55.30 753.36,66.10"/>
<polyline points="760.03,55.30 761.75,55.30 763.47,58.00 763.47,63.40 761.75,66.10 760.03,66.10 758.31,63.40 758.31,58.00 760.03,55.30"/>
<polyline points="765.84,66.10 766.27,62.95 768.42,55.30 770.57,62.95 771.00,66.10"/>
<polyline points="766.27,62.95 770.57,62.95"/>
<polyline points="748.00,125.47 748.84,123.60 752.18,123.60 753.02,124.53 753.02,128.27 748.00,133.87 748.00,134.80 753.02,134.80"/>
<polyline points="760.34,124.53 759.50,123.60 756.99,123.60 755.32,126.40 755.32,132.93 756.16,134.80 759.50,134.80 760.34,132.93 760.34,130.13 759.50,129.20 756.16,129.20 755.32,130.13"/>
<polyline points="762.64,124.53 763.48,123.60 766.82,123.60 767.66,124.53 767.66,128.27 766.82,129.20 764.31,129.20"/>
<polyline points="766.82,129.20 767.66,130.13 767.66,133.87 766.82,134.80 763.48,134.80 762.64,133.87"/>
<polyline points="769.96,124.53 770.80,123.60 774.14,123.60 774.98,124.53 774.98,128.27 774.14,129.20 771.63,129.20"/>
<polyline points="774.14,129.20 774.98,130.13 774.98,133.87 774.14,134.80 770.80,134.80 769.96,133.87"/>
<polyline points="778.95,123.60 780.63,123.60 782.30,126.40 782.30,132.00 780.63,134.80 778.95,134.80 777.28,132.00 777.28,126.40 778.95,123.60"/>
<polyline points="900.90,86.17 901.76,84.30 905.20,84.30 906.06,85.23 906.06,88.97 900.90,94.57 900.90,95.50 906.06,95.50"/>
<polyline points="913.59,85.23 912.73,84.30 910.15,84.30 908.43,87.10 908.43,93.63 909.29,95.50 912.73,95.50 913.59,93.63 913.59,90.83 912.73,89.90 909.29,89.90 908.43,90.83"/>
<polyline points="915.96,85.23 916.82,84.30 920.26,84.30 921.12,85.23 921.12,88.97 920.26,89.90 917.68,89.90"/>
<polyline points="920.26,89.90 921.12,90.83 921.12,94.57 920.26,95.50 916.82,95.50 915.96,94.57"/>
<polyline points="924.34,86.17 926.06,84.30 926.06,95.50"/>
<polyline points="932.73,84.30 934.45,84.30 936.17,87.10 936.17,92.70 934.45,95.50 932.73,95.50 931.01,92.70 931.01,87.10 932.73,84.30"/>
<polyline points="938.54,95.50 938.97,92.23 941.12,84.30 943.27,92.23 943.70,95.50"/>
<polyline points="938.97,92.23 943.27,92.23"/>
<polyline points="919.30,112.33 920.20,110.50 923.82,110.50 924.73,111.42 924.73,115.08 919.30,120.58 919.30,121.50 924.73,121.50"/>
<polyline points="932.65,111.42 931.74,110.50 929.03,110.50 927.22,113.25 927.22,119.67 928.12,121.50 931.74,121.50 932.65,119.67 932.65,116.92 931.74,116.00 928.12,116.00 927.22,116.92"/>
<polyline points="935.14,111.42 936.04,110.50 939.66,110.50 940.56,111.42 940.56,115.08 939.66,116.00 936.95,116.00"/>
<polyline points="939.66,116.00 940.56,116.92 940.56,120.58 939.66,121.50 936.04,121.50 935.14,120.58"/>
<polyline points="943.96,112.33 945.77,110.50 945.77,121.50"/>
<polyline points="952.78,110.50 954.59,110.50 956.40,113.25 956.40,118.75 954.59,121.50 952.78,121.50 950.97,118.75 950.97,113.25 952.78,110.50"/>
<polyline points="441.10,258.58 441.99,256.70 445.54,256.70 446.42,257.64 446.42,261.41 441.10,267.06 441.10,268.00 446.42,268.00"/>
<polyline points="454.19,257.64 453.30,256.70 450.64,256.70 448.86,259.52 448.86,266.12 449.75,268.00 453.30,268.00 454.19,266.12 454.19,263.29 453.30,262.35 449.75,262.35 448.86,263.29"/>
<polyline points="456.63,257.64 457.51,256.70 461.06,256.70 461.95,257.64 461.95,261.41 461.06,262.35 458.40,262.35"/>
<polyline points="461.06,262.35 461.95,263.29 461.95,267.06 461.06,268.00 457.51,268.00 456.63,267.06"/>
<polyline points="464.39,257.64 465.28,256.70 468.82,256.70 469.71,257.64 469.71,261.41 468.82,262.35 466.16,262.35"/>
<polyline points="468.82,262.35 469.71,263.29 469.71,267.06 468.82,268.00 465.28,268.00 464.39,267.06"/>
<polyline points="473.93,256.70 475.70,256.70 477.47,259.52 477.47,265.18 475.70,268.00 473.93,268.00 472.15,265.18 472.15,259.52 473.93,256.70"/>
<polyline points="479.91,262.35 485.24,262.35"/>
<polyline points="482.58,259.52 482.58,265.18"/>
<polyline points="487.68,268.00 488.12,264.70 490.34,256.70 492.56,264.70 493.00,268.00"/>
<polyline points="488.12,264.70 492.56,264.70"/>
<polyline points="431.00,286.73 431.86,284.90 435.29,284.90 436.15,285.82 436.15,289.48 431.00,294.98 431.00,295.90 436.15,295.90"/>
<polyline points="443.66,285.82 442.80,284.90 440.22,284.90 438.51,287.65 438.51,294.07 439.37,295.90 442.80,295.90 443.66,294.07 443.66,291.32 442.80,290.40 439.37,290.40 438.51,291.32"/>
<polyline points="446.02,285.82 446.88,284.90 450.31,284.90 451.17,285.82 451.17,289.48 450.31,290.40 447.73,290.40"/>
<polyline points="450.31,290.40 451.17,291.32 451.17,294.98 450.31,295.90 446.88,295.90 446.02,294.98"/>
<polyline points="454.38,286.73 456.10,284.90 456.10,295.90"/>
<polyline points="462.75,284.90 464.47,284.90 466.18,287.65 466.18,293.15 464.47,295.90 462.75,295.90 461.03,293.15 461.03,287.65 462.75,284.90"/>
<polyline points="468.54,295.90 468.97,292.69 471.12,284.90 473.26,292.69 473.69,295.90"/>
<polyline points="468.97,292.69 473.26,292.69"/>
<polyline points="476.05,295.90 476.48,292.69 478.63,284.90 480.77,292.69 481.20,295.90"/>
<polyline points="476.48,292.69 480.77,292.69"/>
<polyline points="554.30,207.08 555.21,205.10 558.85,205.10 559.76,206.09 559.76,210.06 554.30,216.01 554.30,217.00 559.76,217.00"/>
<polyline points="567.72,205.10 562.26,205.10 562.26,210.06 563.17,209.56 566.81,209.56 567.72,211.05 567.72,216.01 566.81,217.00 563.17,217.00 562.26,216.01"/>
<polyline points="575.68,205.10 570.22,205.10 570.22,210.06 571.13,209.56 574.77,209.56 575.68,211.05 575.68,216.01 574.77,217.00 571.13,217.00 570.22,216.01"/>
<polyline points="583.64,205.10 578.18,205.10 578.18,210.06 579.09,209.56 582.73,209.56 583.64,211.05 583.64,216.01 582.73,217.00 579.09,217.00 578.18,216.01"/>
<polyline points="590.69,217.00 590.69,205.10 586.14,213.03 586.14,214.03 591.60,214.03"/>
<polyline points="581.70,240.78 582.58,238.80 586.11,238.80 586.99,239.79 586.99,243.76 581.70,249.71 581.70,250.70 586.99,250.70"/>
<polyline points="594.72,238.80 589.42,238.80 589.42,243.76 590.30,243.26 593.83,243.26 594.72,244.75 594.72,249.71 593.83,250.70 590.30,250.70 589.42,249.71"/>
<polyline points="597.14,240.78 598.02,238.80 601.55,238.80 602.44,239.79 602.44,243.76 597.14,249.71 597.14,250.70 602.44,250.70"/>
<polyline points="604.86,239.79 605.75,238.80 609.28,238.80 610.16,239.79 610.16,243.76 609.28,244.75 606.63,244.75"/>
<polyline points="609.28,244.75 610.16,245.74 610.16,249.71 609.28,250.70 605.75,250.70 604.86,249.71"/>
<polyline points="613.47,240.78 615.23,238.80 615.23,250.70"/>
<polyline points="620.31,250.70 620.75,247.23 622.95,238.80 625.16,247.23 625.60,250.70"/>
<polyline points="620.75,247.23 625.16,247.23"/>
<polyline points="707.10,211.73 707.99,209.70 711.56,209.70 712.46,210.72 712.46,214.78 707.10,220.88 707.10,221.90 712.46,221.90"/>
<polyline points="716.25,209.70 718.93,209.70 719.82,211.22 719.82,214.28 718.93,215.29 716.25,215.29 715.36,214.28 715.36,211.22 716.25,209.70"/>
<polyline points="716.25,215.29 714.91,216.82 714.91,220.38 716.25,221.90 718.93,221.90 720.27,220.38 720.27,216.82 718.93,215.29"/>
<polyline points="728.08,209.70 722.72,209.70 722.72,214.78 723.61,214.28 727.19,214.28 728.08,215.80 728.08,220.88 727.19,221.90 723.61,221.90 722.72,220.88"/>
<polyline points="735.89,209.70 730.53,209.70 730.53,214.78 731.43,214.28 735.00,214.28 735.89,215.80 735.89,220.88 735.00,221.90 731.43,221.90 730.53,220.88"/>
<polyline points="743.70,210.72 742.81,209.70 740.13,209.70 738.34,212.75 738.34,219.87 739.24,221.90 742.81,221.90 743.70,219.87 743.70,216.82 742.81,215.80 739.24,215.80 738.34,216.82"/>
<polyline points="678.40,262.68 679.27,260.70 682.76,260.70 683.63,261.69 683.63,265.66 678.40,271.61 678.40,272.60 683.63,272.60"/>
<polyline points="690.39,272.60 690.39,260.70 686.03,268.63 686.03,269.62 691.27,269.62"/>
<polyline points="693.67,261.69 694.54,260.70 698.03,260.70 698.90,261.69 698.90,265.66 698.03,266.65 695.41,266.65"/>
<polyline points="698.03,266.65 698.90,267.64 698.90,271.61 698.03,272.60 694.54,272.60 693.67,271.61"/>
<polyline points="701.30,261.69 702.17,260.70 705.66,260.70 706.53,261.69 706.53,265.66 705.66,266.65 703.04,266.65"/>
<polyline points="705.66,266.65 706.53,267.64 706.53,271.61 705.66,272.60 702.17,272.60 701.30,271.61"/>
<polyline points="710.68,260.70 712.42,260.70 714.17,263.68 714.17,269.62 712.42,272.60 710.68,272.60 708.93,269.62 708.93,263.68 710.68,260.70"/>
<polyline points="716.57,272.60 717.00,269.13 719.18,260.70 721.36,269.13 721.80,272.60"/>
<polyline points="717.00,269.13 721.36,269.13"/>
<polyline points="890.40,216.63 891.28,214.70 894.78,214.70 895.66,215.67 895.66,219.53 890.40,225.33 890.40,226.30 895.66,226.30"/>
<polyline points="899.38,214.70 902.01,214.70 902.89,216.15 902.89,219.05 902.01,220.02 899.38,220.02 898.51,219.05 898.51,216.15 899.38,214.70"/>
<polyline points="899.38,220.02 898.07,221.47 898.07,224.85 899.38,226.30 902.01,226.30 903.33,224.85 903.33,221.47 902.01,220.02"/>
<polyline points="910.99,214.70 905.74,214.70 905.74,219.53 906.61,219.05 910.12,219.05 910.99,220.50 910.99,225.33 910.12,226.30 906.61,226.30 905.74,225.33"/>
<polyline points="918.66,214.70 913.41,214.70 913.41,219.53 914.28,219.05 917.79,219.05 918.66,220.50 918.66,225.33 917.79,226.30 914.28,226.30 913.41,225.33"/>
<polyline points="926.33,214.70 921.07,214.70 921.07,219.53 921.95,219.05 925.46,219.05 926.33,220.50 926.33,225.33 925.46,226.30 921.95,226.30 921.07,225.33"/>
<polyline points="928.74,226.30 928.74,214.70 934.00,226.30 934.00,214.70"/>
<polyline points="921.30,250.78 922.18,248.90 925.68,248.90 926.56,249.84 926.56,253.61 921.30,259.26 921.30,260.20 926.56,260.20"/>
<polyline points="933.35,260.20 933.35,248.90 928.97,256.43 928.97,257.38 934.23,257.38"/>
<polyline points="936.64,249.84 937.51,248.90 941.02,248.90 941.89,249.84 941.89,253.61 941.02,254.55 938.39,254.55"/>
<polyline points="941.02,254.55 941.89,255.49 941.89,259.26 941.02,260.20 937.51,260.20 936.64,259.26"/>
<polyline points="944.31,249.84 945.18,248.90 948.69,248.90 949.56,249.84 949.56,253.61 948.69,254.55 946.06,254.55"/>
<polyline points="948.69,254.55 949.56,255.49 949.56,259.26 948.69,260.20 945.18,260.20 944.31,259.26"/>
<polyline points="953.73,248.90 955.48,248.90 957.23,251.72 957.23,257.38 955.48,260.20 953.73,260.20 951.97,257.38 951.97,251.72 953.73,248.90"/>
<polyline points="959.64,260.20 960.08,256.90 962.27,248.90 964.46,256.90 964.90,260.20"/>
<polyline points="960.08,256.90 964.46,256.90"/>
<polyline points="401.30,380.75 402.16,378.90 405.62,378.90 406.48,379.82 406.48,383.52 401.30,389.07 401.30,390.00 406.48,390.00"/>
<polyline points="414.03,378.90 408.85,378.90 408.85,383.52 409.72,383.06 413.17,383.06 414.03,384.45 414.03,389.07 413.17,390.00 409.72,390.00 408.85,389.07"/>
<polyline points="416.41,380.75 417.27,378.90 420.72,378.90 421.59,379.82 421.59,383.52 416.41,389.07 416.41,390.00 421.59,390.00"/>
<polyline points="423.96,379.82 424.82,378.90 428.28,378.90 429.14,379.82 429.14,383.52 428.28,384.45 425.69,384.45"/>
<polyline points="428.28,384.45 429.14,385.38 429.14,389.07 428.28,390.00 424.82,390.00 423.96,389.07"/>
<polyline points="432.38,380.75 434.10,378.90 434.10,390.00"/>
<polyline points="439.07,390.00 439.50,386.76 441.66,378.90 443.81,386.76 444.25,390.00"/>
<polyline points="439.50,386.76 443.81,386.76"/>
<polyline points="446.62,390.00 447.05,386.76 449.21,378.90 451.37,386.76 451.80,390.00"/>
<polyline points="447.05,386.76 451.37,386.76"/>
<polyline points="517.20,452.49 518.12,453.40 520.88,453.40 522.73,450.67 522.73,444.32 521.81,442.50 518.12,442.50 517.20,444.32 517.20,447.04 518.12,447.95 521.81,447.95 522.73,447.04"/>
<polyline points="526.64,442.50 529.40,442.50 530.33,443.86 530.33,446.59 529.40,447.50 526.64,447.50 525.72,446.59 525.72,443.86 526.64,442.50"/>
<polyline points="526.64,447.50 525.26,448.86 525.26,452.04 526.64,453.40 529.40,453.40 530.79,452.04 530.79,448.86 529.40,447.50"/>
<polyline points="538.84,442.50 533.32,442.50 533.32,447.04 534.24,446.59 537.92,446.59 538.84,447.95 538.84,452.49 537.92,453.40 534.24,453.40 533.32,452.49"/>
<polyline points="542.76,442.50 545.52,442.50 546.44,443.86 546.44,446.59 545.52,447.50 542.76,447.50 541.84,446.59 541.84,443.86 542.76,442.50"/>
<polyline points="542.76,447.50 541.38,448.86 541.38,452.04 542.76,453.40 545.52,453.40 546.90,452.04 546.90,448.86 545.52,447.50"/>
<polyline points="550.36,444.32 552.20,442.50 552.20,453.40"/>
<polyline points="361.42,449.68 360.51,448.70 357.81,448.70 356.00,451.65 356.00,458.53 356.90,460.50 360.51,460.50 361.42,458.53 361.42,455.58 360.51,454.60 356.90,454.60 356.00,455.58"/>
<polyline points="369.31,449.68 368.41,448.70 365.70,448.70 363.90,451.65 363.90,458.53 364.80,460.50 368.41,460.50 369.31,458.53 369.31,455.58 368.41,454.60 364.80,454.60 363.90,455.58"/>
<polyline points="373.15,448.70 375.86,448.70 376.76,450.18 376.76,453.12 375.86,454.11 373.15,454.11 372.25,453.12 372.25,450.18 373.15,448.70"/>
<polyline points="373.15,454.11 371.79,455.58 371.79,459.02 373.15,460.50 375.86,460.50 377.21,459.02 377.21,455.58 375.86,454.11"/>
<polyline points="385.11,449.68 384.20,448.70 381.50,448.70 379.69,451.65 379.69,458.53 380.59,460.50 384.20,460.50 385.11,458.53 385.11,455.58 384.20,454.60 380.59,454.60 379.69,455.58"/>
<polyline points="389.39,448.70 391.20,448.70 393.00,451.65 393.00,457.55 391.20,460.50 389.39,460.50 387.59,457.55 387.59,451.65 389.39,448.70"/>
<polyline points="395.48,448.70 400.00,448.70 400.90,449.68 400.90,453.62 400.00,454.60 395.48,454.60"/>
<polyline points="400.00,454.60 400.90,455.58 400.90,459.52 400.00,460.50 395.48,460.50 395.48,448.70"/>
<polyline points="500.30,488.69 501.15,489.60 503.70,489.60 505.41,486.88 505.41,480.52 504.56,478.70 501.15,478.70 500.30,480.52 500.30,483.24 501.15,484.15 504.56,484.15 505.41,483.24"/>
<polyline points="509.03,478.70 511.58,478.70 512.43,480.06 512.43,482.79 511.58,483.70 509.03,483.70 508.17,482.79 508.17,480.06 509.03,478.70"/>
<polyline points="509.03,483.70 507.75,485.06 507.75,488.24 509.03,489.60 511.58,489.60 512.86,488.24 512.86,485.06 511.58,483.70"/>
<polyline points="520.30,478.70 515.20,478.70 515.20,483.24 516.05,482.79 519.45,482.79 520.30,484.15 520.30,488.69 519.45,489.60 516.05,489.60 515.20,488.69"/>
<polyline points="523.92,478.70 526.48,478.70 527.33,480.06 527.33,482.79 526.48,483.70 523.92,483.70 523.07,482.79 523.07,480.06 523.92,478.70"/>
<polyline points="523.92,483.70 522.64,485.06 522.64,488.24 523.92,489.60 526.48,489.60 527.75,488.24 527.75,485.06 526.48,483.70"/>
<polyline points="535.20,478.70 530.09,478.70 530.09,483.24 530.94,482.79 534.35,482.79 535.20,484.15 535.20,488.69 534.35,489.60 530.94,489.60 530.09,488.69"/>
<polyline points="900.50,522.30 900.95,518.60 903.19,509.60 905.44,518.60 905.88,522.30"/>
<polyline points="900.95,518.60 905.44,518.60"/>
<polyline points="908.35,511.72 909.25,509.60 912.84,509.60 913.74,510.66 913.74,514.89 908.35,521.24 908.35,522.30 913.74,522.30"/>
<polyline points="921.59,509.60 916.20,509.60 916.20,514.89 917.10,514.36 920.69,514.36 921.59,515.95 921.59,521.24 920.69,522.30 917.10,522.30 916.20,521.24"/>
<polyline points="924.06,510.66 924.95,509.60 928.54,509.60 929.44,510.66 929.44,514.89 928.54,515.95 925.85,515.95"/>
<polyline points="928.54,515.95 929.44,517.01 929.44,521.24 928.54,522.30 924.95,522.30 924.06,521.24"/>
<polyline points="934.60,512.77 934.60,519.12"/>
<polyline points="931.91,513.83 937.29,518.07"/>
<polyline points="931.91,518.07 937.29,513.83"/>
<polyline points="941.55,509.60 943.35,509.60 945.14,512.77 945.14,519.12 943.35,522.30 941.55,522.30 939.76,519.12 939.76,512.77 941.55,509.60"/>
<polyline points="951.20,509.60 949.41,512.77"/>
<polyline points="960.85,510.66 959.95,509.60 957.26,509.60 955.46,512.77 955.46,520.18 956.36,522.30 959.95,522.30 960.85,520.18 960.85,517.01 959.95,515.95 956.36,515.95 955.46,517.01"/>
<polyline points="964.66,509.60 967.35,509.60 968.25,511.19 968.25,514.36 967.35,515.42 964.66,515.42 963.76,514.36 963.76,511.19 964.66,509.60"/>
<polyline points="964.66,515.42 963.32,517.01 963.32,520.71 964.66,522.30 967.35,522.30 968.70,520.71 968.70,517.01 967.35,515.42"/>
<polyline points="356.87,167.80 353.20,170.60 353.20,173.40 356.87,176.20"/>
<polyline points="360.99,167.80 365.57,167.80 367.40,169.67 367.40,174.33 365.57,176.20 360.99,176.20"/>
<polyline points="361.91,167.80 361.91,176.20"/>
<polyline points="370.61,167.80 377.03,167.80 377.03,176.20 370.61,176.20 370.61,167.80"/>
<polyline points="380.24,167.80 386.65,167.80 386.65,176.20 380.24,176.20 380.24,167.80"/>
<polyline points="390.77,176.20 390.77,167.80 395.36,167.80 396.27,168.73 396.27,171.53 395.36,172.47 390.77,172.47"/>
<polyline points="389.86,167.80 390.77,167.80"/>
<polyline points="389.86,176.20 391.69,176.20"/>
<polyline points="392.61,172.47 396.27,176.20"/>
<polyline points="406.22,167.80 406.22,176.20 412.63,176.20"/>
<polyline points="415.84,167.80 422.25,167.80 422.25,176.20 415.84,176.20 415.84,167.80"/>
<polyline points="431.88,169.20 430.50,167.80 426.84,167.80 425.46,169.67 425.46,174.33 426.84,176.20 430.50,176.20 431.88,174.80"/>
<polyline points="435.08,167.80 435.08,176.20"/>
<polyline points="441.50,167.80 435.08,173.40"/>
<polyline points="437.38,171.53 441.50,176.20"/>
<polyline points="353.80,183.80 360.42,183.80"/>
<polyline points="357.11,183.80 357.11,191.50"/>
<polyline points="365.63,183.80 368.46,183.80"/>
<polyline points="367.05,183.80 367.05,191.50"/>
<polyline points="365.63,191.50 368.46,191.50"/>
<polyline points="373.67,191.50 373.67,183.80 376.98,188.93 380.29,183.80 380.29,191.50"/>
<polyline points="390.22,183.80 383.60,183.80 383.60,191.50 390.22,191.50"/>
<polyline points="383.60,187.65 389.28,187.65"/>
<polyline points="394.48,191.50 394.48,183.80 399.21,183.80 400.16,184.66 400.16,187.22 399.21,188.08 394.48,188.08"/>
<polyline points="393.54,183.80 394.48,183.80"/>
<polyline points="393.54,191.50 395.43,191.50"/>
<polyline points="396.37,188.08 400.16,191.50"/>
<polyline points="404.42,183.80 408.20,186.37 408.20,188.93 404.42,191.50"/>
<polyline points="481.18,165.00 477.50,167.97 477.50,170.93 481.18,173.90"/>
<polyline points="485.33,165.00 489.93,165.00 491.78,166.98 491.78,171.92 489.93,173.90 485.33,173.90"/>
<polyline points="486.25,165.00 486.25,173.90"/>
<polyline points="495.00,165.00 501.45,165.00 501.45,173.90 495.00,173.90 495.00,165.00"/>
<polyline points="504.67,165.00 511.12,165.00 511.12,173.90 504.67,173.90 504.67,165.00"/>
<polyline points="515.26,173.90 515.26,165.00 519.87,165.00 520.79,165.99 520.79,168.96 519.87,169.94 515.26,169.94"/>
<polyline points="514.34,165.00 515.26,165.00"/>
<polyline points="514.34,173.90 516.18,173.90"/>
<polyline points="517.11,169.94 520.79,173.90"/>
<polyline points="530.78,165.00 530.78,173.90 537.23,173.90"/>
<polyline points="540.46,165.00 546.90,165.00 546.90,173.90 540.46,173.90 540.46,165.00"/>
<polyline points="556.57,166.48 555.19,165.00 551.51,165.00 550.13,166.98 550.13,171.92 551.51,173.90 555.19,173.90 556.57,172.42"/>
<polyline points="559.80,165.00 559.80,173.90"/>
<polyline points="566.24,165.00 559.80,170.93"/>
<polyline points="562.10,168.96 566.24,173.90"/>
<polyline points="576.24,165.00 582.69,165.00"/>
<polyline points="579.46,165.00 579.46,173.90"/>
<polyline points="587.75,165.00 590.52,165.00"/>
<polyline points="589.13,165.00 589.13,173.90"/>
<polyline points="587.75,173.90 590.52,173.90"/>
<polyline points="595.58,173.90 595.58,165.00 598.80,170.93 602.03,165.00 602.03,173.90"/>
<polyline points="611.70,165.00 605.25,165.00 605.25,173.90 611.70,173.90"/>
<polyline points="605.25,169.45 610.78,169.45"/>
<polyline points="615.84,173.90 615.84,165.00 620.45,165.00 621.37,165.99 621.37,168.96 620.45,169.94 615.84,169.94"/>
<polyline points="614.92,165.00 615.84,165.00"/>
<polyline points="614.92,173.90 616.77,173.90"/>
<polyline points="617.69,169.94 621.37,173.90"/>
<polyline points="625.52,165.00 629.20,167.97 629.20,170.93 625.52,173.90"/>
<polyline points="511.50,181.74 511.50,187.02"/>
<polyline points="523.20,179.10 516.65,179.10 516.65,188.60"/>
<polyline points="516.65,183.85 522.27,183.85"/>
<polyline points="526.48,188.60 533.04,179.10"/>
<polyline points="536.31,188.60 536.31,185.75 539.59,179.10 542.87,185.75 542.87,188.60"/>
<polyline points="536.31,185.75 542.87,185.75"/>
<polyline points="552.70,180.16 551.76,179.10 547.08,179.10 546.15,180.16 546.15,182.79 547.08,183.85 551.76,183.85 552.70,184.91 552.70,187.54 551.76,188.60 547.08,188.60 546.15,187.54"/>
<polyline points="562.53,180.16 561.60,179.10 556.92,179.10 555.98,180.16 555.98,182.79 556.92,183.85 561.60,183.85 562.53,184.91 562.53,187.54 561.60,188.60 556.92,188.60 555.98,187.54"/>
<polyline points="567.68,179.10 570.49,179.10"/>
<polyline points="569.09,179.10 569.09,188.60"/>
<polyline points="567.68,188.60 570.49,188.60"/>
<polyline points="582.20,180.16 581.26,179.10 576.58,179.10 575.64,180.16 575.64,182.79 576.58,183.85 581.26,183.85 582.20,184.91 582.20,187.54 581.26,188.60 576.58,188.60 575.64,187.54"/>
<polyline points="585.47,179.10 592.03,179.10"/>
<polyline points="588.75,179.10 588.75,188.60"/>
<polyline points="608.74,180.16 607.81,179.10 603.13,179.10 602.19,180.16 602.19,182.79 603.13,183.85 607.81,183.85 608.74,184.91 608.74,187.54 607.81,188.60 603.13,188.60 602.19,187.54"/>
<polyline points="613.89,179.10 616.70,179.10"/>
<polyline points="615.30,179.10 615.30,188.60"/>
<polyline points="613.89,188.60 616.70,188.60"/>
<polyline points="621.85,179.10 626.54,179.10 628.41,181.21 628.41,186.49 626.54,188.60 621.85,188.60"/>
<polyline points="622.79,179.10 622.79,188.60"/>
<polyline points="638.24,179.10 631.69,179.10 631.69,188.60 638.24,188.60"/>
<polyline points="631.69,183.85 637.30,183.85"/>
<polyline points="642.45,179.10 646.20,182.27 646.20,185.43 642.45,188.60"/>
<polyline points="750.30,140.50 746.50,143.03 746.50,145.57 750.30,148.10"/>
<polyline points="754.58,140.50 754.58,148.10 761.24,148.10"/>
<polyline points="764.57,140.50 771.23,140.50 771.23,148.10 764.57,148.10 764.57,140.50"/>
<polyline points="774.56,140.50 774.56,148.10 781.22,148.10 781.22,140.50"/>
<polyline points="777.89,143.88 777.89,148.10"/>
<polyline points="785.50,140.50 789.30,143.03 789.30,145.57 785.50,148.10"/>
<polyline points="709.31,181.00 705.50,183.77 705.50,186.53 709.31,189.30"/>
<polyline points="713.59,181.00 713.59,189.30"/>
<polyline points="720.25,181.00 720.25,189.30"/>
<polyline points="713.59,185.15 720.25,185.15"/>
<polyline points="723.58,181.00 730.24,181.00 730.24,189.30 723.58,189.30 723.58,181.00"/>
<polyline points="734.52,189.30 734.52,181.00 739.27,181.00 740.22,181.92 740.22,184.69 739.27,185.61 734.52,185.61"/>
<polyline points="733.56,181.00 734.52,181.00"/>
<polyline points="733.56,189.30 735.47,189.30"/>
<polyline points="736.42,185.61 740.22,189.30"/>
<polyline points="743.55,189.30 743.55,181.00 750.21,189.30 750.21,181.00"/>
<polyline points="754.49,181.00 758.30,183.77 758.30,186.53 754.49,189.30"/>
<polyline points="921.03,126.10 917.30,129.27 917.30,132.43 921.03,135.60"/>
<polyline points="925.23,126.10 925.23,135.60"/>
<polyline points="931.77,126.10 931.77,135.60"/>
<polyline points="925.23,130.85 931.77,130.85"/>
<polyline points="936.90,126.10 939.70,126.10"/>
<polyline points="938.30,126.10 938.30,135.60"/>
<polyline points="936.90,135.60 939.70,135.60"/>
<polyline points="951.37,127.16 950.43,126.10 945.77,126.10 944.83,127.16 944.83,134.54 945.77,135.60 950.43,135.60 951.37,134.54 951.37,131.38 948.57,131.38"/>
<polyline points="954.63,126.10 954.63,135.60"/>
<polyline points="961.17,126.10 961.17,135.60"/>
<polyline points="954.63,130.85 961.17,130.85"/>
<polyline points="965.37,126.10 969.10,129.27 969.10,132.43 965.37,135.60"/>
<polyline points="876.96,182.30 873.20,185.10 873.20,187.90 876.96,190.70"/>
<polyline points="881.19,182.30 881.19,190.70"/>
<polyline points="887.78,182.30 887.78,190.70"/>
<polyline points="881.19,186.50 887.78,186.50"/>
<polyline points="891.07,182.30 897.65,182.30 897.65,190.70 891.07,190.70 891.07,182.30"/>
<polyline points="901.89,190.70 901.89,182.30 906.59,182.30 907.53,183.23 907.53,186.03 906.59,186.97 901.89,186.97"/>
<polyline points="900.95,182.30 901.89,182.30"/>
<polyline points="900.95,190.70 902.83,190.70"/>
<polyline points="903.77,186.97 907.53,190.70"/>
<polyline points="910.82,190.70 910.82,182.30 917.41,190.70 917.41,182.30"/>
<polyline points="921.64,182.30 925.40,185.10 925.40,187.90 921.64,190.70"/>
<polyline points="355.20,322.40 351.50,325.47 351.50,328.53 355.20,331.60"/>
<polyline points="365.84,322.40 359.37,322.40 359.37,331.60"/>
<polyline points="359.37,327.00 364.92,327.00"/>
<polyline points="369.08,322.40 375.56,322.40 375.56,331.60 369.08,331.60 369.08,322.40"/>
<polyline points="379.72,331.60 379.72,322.40 384.35,322.40 385.27,323.42 385.27,326.49 384.35,327.51 379.72,327.51"/>
<polyline points="378.80,322.40 379.72,322.40"/>
<polyline points="378.80,331.60 380.65,331.60"/>
<polyline points="381.57,327.51 385.27,331.60"/>
<polyline points="395.31,331.60 395.31,328.84 398.55,322.40 401.79,328.84 401.79,331.60"/>
<polyline points="395.31,328.84 401.79,328.84"/>
<polyline points="405.03,331.60 405.03,322.40 411.51,331.60 411.51,322.40"/>
<polyline points="414.75,322.40 421.22,322.40"/>
<polyline points="417.98,322.40 417.98,331.60"/>
<polyline points="426.31,322.40 429.09,322.40"/>
<polyline points="427.70,322.40 427.70,331.60"/>
<polyline points="426.31,331.60 429.09,331.60"/>
<polyline points="435.10,327.00 439.73,327.00"/>
<polyline points="443.89,322.40 450.37,322.40"/>
<polyline points="447.13,322.40 447.13,331.60"/>
<polyline points="453.61,322.40 453.61,331.60"/>
<polyline points="460.09,322.40 460.09,331.60"/>
<polyline points="453.61,327.00 460.09,327.00"/>
<polyline points="469.80,322.40 463.33,322.40 463.33,331.60 469.80,331.60"/>
<polyline points="463.33,327.00 468.88,327.00"/>
<polyline points="479.52,322.40 473.04,322.40 473.04,331.60"/>
<polyline points="473.04,327.00 478.59,327.00"/>
<polyline points="482.76,322.40 489.23,322.40"/>
<polyline points="486.00,322.40 486.00,331.60"/>
<polyline points="493.40,322.40 497.10,325.47 497.10,328.53 493.40,331.60"/>
<polyline points="391.96,336.90 388.00,339.77 388.00,342.63 391.96,345.50"/>
<polyline points="396.41,336.90 396.41,345.50"/>
<polyline points="403.33,336.90 403.33,345.50"/>
<polyline points="396.41,341.20 403.33,341.20"/>
<polyline points="406.79,336.90 413.72,336.90 413.72,345.50 406.79,345.50 406.79,336.90"/>
<polyline points="418.17,345.50 418.17,336.90 423.12,336.90 424.11,337.86 424.11,340.72 423.12,341.68 418.17,341.68"/>
<polyline points="417.18,336.90 418.17,336.90"/>
<polyline points="417.18,345.50 419.16,345.50"/>
<polyline points="420.15,341.68 424.11,345.50"/>
<polyline points="427.57,345.50 427.57,336.90 434.49,345.50 434.49,336.90"/>
<polyline points="438.94,336.90 442.90,339.77 442.90,342.63 438.94,345.50"/>
<polyline points="537.91,333.90 534.30,336.77 534.30,339.63 537.91,342.50"/>
<polyline points="541.97,342.50 541.97,339.92 545.13,333.90 548.29,339.92 548.29,342.50"/>
<polyline points="541.97,339.92 548.29,339.92"/>
<polyline points="553.26,333.90 555.97,333.90"/>
<polyline points="554.61,333.90 554.61,342.50"/>
<polyline points="553.26,342.50 555.97,342.50"/>
<polyline points="561.84,342.50 561.84,333.90 566.35,333.90 567.25,334.86 567.25,337.72 566.35,338.68 561.84,338.68"/>
<polyline points="560.93,333.90 561.84,333.90"/>
<polyline points="560.93,342.50 562.74,342.50"/>
<polyline points="563.64,338.68 567.25,342.50"/>
<polyline points="577.05,333.90 582.01,333.90 583.37,335.14 583.37,336.96 582.01,338.20 577.95,338.20"/>
<polyline points="582.01,338.20 583.37,339.44 583.37,341.26 582.01,342.50 577.05,342.50"/>
<polyline points="577.95,333.90 577.95,342.50"/>
<polyline points="586.53,342.50 586.53,339.92 589.69,333.90 592.85,339.92 592.85,342.50"/>
<polyline points="586.53,339.92 592.85,339.92"/>
<polyline points="602.33,334.86 601.42,333.90 596.91,333.90 596.01,334.86 596.01,341.54 596.91,342.50 601.42,342.50 602.33,341.54 602.33,338.68 599.62,338.68"/>
<polyline points="606.39,333.90 610.00,336.77 610.00,339.63 606.39,342.50"/>
</g>
</svg>
</body></html>
